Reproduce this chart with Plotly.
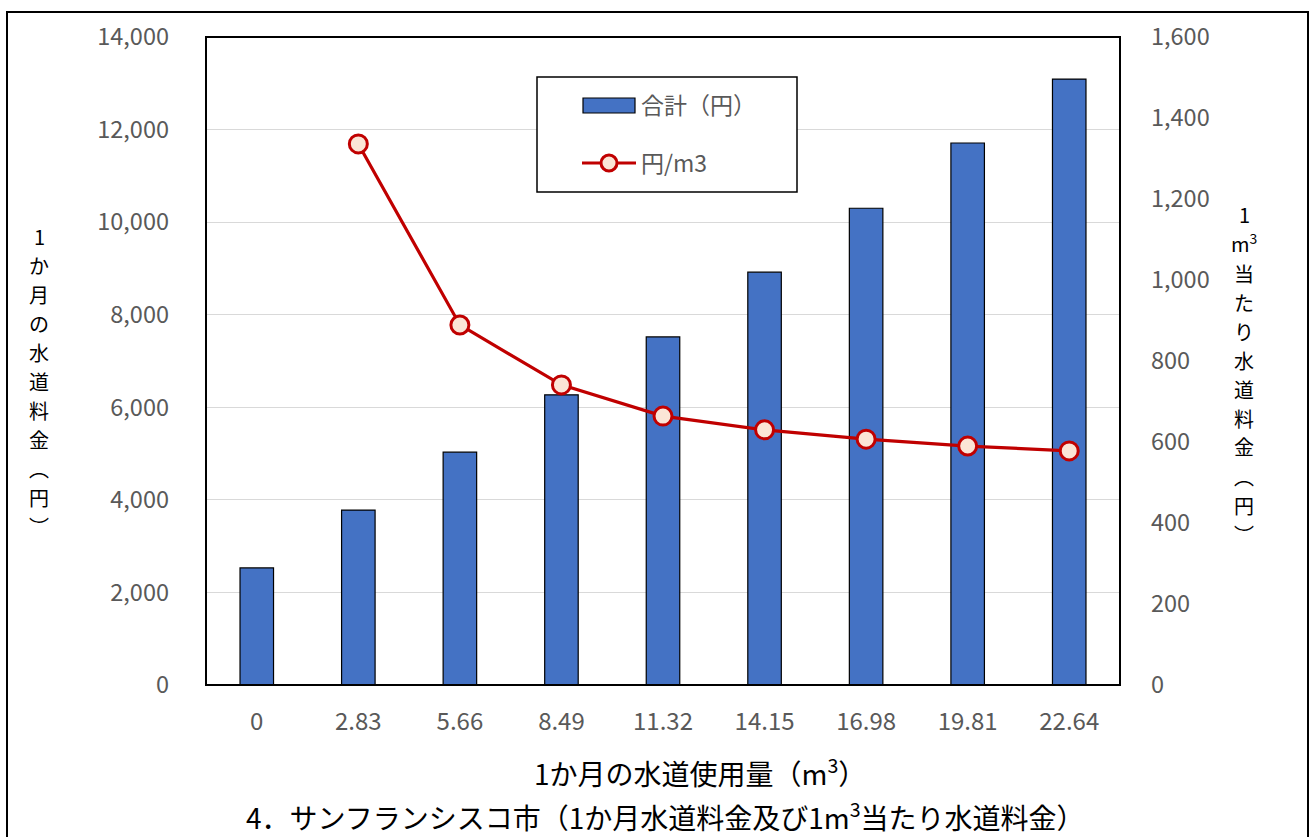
import plotly.graph_objects as go

# Monthly water usage (m3) categories
usage_labels = ["0", "2.83", "5.66", "8.49", "11.32", "14.15", "16.98", "19.81", "22.64"]
# Monthly water charge total (yen)
monthly_total = [2530, 3780, 5030, 6270, 7520, 8920, 10300, 11710, 13090]
# Charge per m3 (yen); undefined at zero usage
per_m3 = [None, 1336, 889, 741, 664, 630, 607, 590, 578]

left_ticks = [0, 2000, 4000, 6000, 8000, 10000, 12000, 14000]
right_ticks = [0, 200, 400, 600, 800, 1000, 1200, 1400, 1600]

# Vertical axis titles, one character per row
left_title_chars = ["1", "か", "月", "の", "水", "道", "料", "金", "︵", "円", "︶"]
right_title_chars = ["1", "m<sup>3</sup>", "当", "た", "り", "水", "道", "料", "金", "︵", "円", "︶"]

FONT = "Noto Sans CJK JP"
GRAY = "#595959"
BAR_BLUE = "#4472C4"
RED = "#C00000"
PEACH = "#FBE5D6"

fig = go.Figure()

fig.add_trace(go.Bar(
    x=usage_labels, y=monthly_total, name="合計（円）",
    marker=dict(color=BAR_BLUE, line=dict(color="#000000", width=1.2)),
    width=0.33, yaxis="y",
))

fig.add_trace(go.Scatter(
    x=usage_labels, y=per_m3, name="円/m3", mode="lines+markers",
    line=dict(color=RED, width=3.2),
    marker=dict(symbol="circle", size=18, color=PEACH, line=dict(color=RED, width=3)),
    yaxis="y2", connectgaps=False,
))

# Plot-area geometry in pixels (used to place the decorations)
W, H = 1310, 837
L, R, T, B = 206, 1120, 37, 685
PW, PH = R - L, B - T


def px(x):
    return (x - L) / PW


def py(y):
    return (B - y) / PH


shapes = [
    # outer frame
    dict(type="rect", xref="paper", yref="paper",
         x0=px(7), x1=px(1308), y0=py(850), y1=py(12),
         line=dict(color="#000000", width=2), fillcolor="rgba(0,0,0,0)", layer="below"),
    # plot-area frame
    dict(type="rect", xref="paper", yref="paper", x0=0, x1=1, y0=0, y1=1,
         line=dict(color="#000000", width=2), fillcolor="rgba(0,0,0,0)", layer="above"),
    # legend box
    dict(type="rect", xref="paper", yref="paper",
         x0=px(537), x1=px(797), y0=py(192), y1=py(77),
         line=dict(color="#000000", width=1.5), fillcolor="#FFFFFF", layer="above"),
    # legend swatch: bar
    dict(type="rect", xref="paper", yref="paper",
         x0=px(583), x1=px(635), y0=py(113), y1=py(98),
         line=dict(color="#000000", width=1.2), fillcolor=BAR_BLUE, layer="above"),
    # legend swatch: line
    dict(type="line", xref="paper", yref="paper",
         x0=px(582), x1=px(636), y0=py(163), y1=py(163),
         line=dict(color=RED, width=3.2), layer="above"),
    dict(type="circle", xref="paper", yref="paper",
         xsizemode="pixel", ysizemode="pixel",
         xanchor=px(609), yanchor=py(163), x0=-8, x1=8, y0=-8, y1=8,
         line=dict(color=RED, width=3), fillcolor=PEACH, layer="above"),
]

annotations = [
    dict(text="合計（円）", xref="paper", yref="paper", x=px(639), y=py(104),
         xanchor="left", yanchor="middle", showarrow=False,
         font=dict(family=FONT, size=23, color=GRAY)),
    dict(text="円/m3", xref="paper", yref="paper", x=px(639), y=py(162),
         xanchor="left", yanchor="middle", showarrow=False,
         font=dict(family=FONT, size=23, color=GRAY)),
    # x axis title
    dict(text="1か月の水道使用量（m<sup>3</sup>）", xref="paper", yref="paper",
         x=px(700), y=py(771), xanchor="center", yanchor="middle", showarrow=False,
         font=dict(family=FONT, size=28, color="#000000")),
    # chart caption
    dict(text="4．サンフランシスコ市（1か月水道料金及び1m<sup>3</sup>当たり水道料金）",
         xref="paper", yref="paper", x=px(665), y=py(815),
         xanchor="center", yanchor="middle", showarrow=False,
         font=dict(family=FONT, size=28, color="#000000")),
]

# Vertical titles: stack characters top to bottom
PITCH = 29
VSIZE = 20
for i, ch in enumerate(left_title_chars):
    annotations.append(dict(
        text=ch, xref="paper", yref="paper", x=px(39), y=py(236 + i * PITCH),
        xanchor="center", yanchor="middle", showarrow=False,
        font=dict(family=FONT, size=VSIZE, color="#000000")))
right_rows = [214, 243] + [273 + i * PITCH for i in range(len(right_title_chars) - 2)]
for ch, yy in zip(right_title_chars, right_rows):
    annotations.append(dict(
        text=ch, xref="paper", yref="paper", x=px(1244), y=py(yy),
        xanchor="center", yanchor="middle", showarrow=False,
        font=dict(family=FONT, size=VSIZE, color="#000000")))

fig.update_layout(
    width=W, height=H,
    margin=dict(l=L, r=W - R, t=T, b=H - B, pad=0),
    paper_bgcolor="#FFFFFF", plot_bgcolor="#FFFFFF",
    showlegend=False,
    bargap=0.67,
    font=dict(family=FONT, color=GRAY),
    xaxis=dict(
        type="category", categoryorder="array", categoryarray=usage_labels,
        range=[-0.5, len(usage_labels) - 0.5],
        showgrid=False, zeroline=False, showline=False,
        ticks="", ticklabelstandoff=20,
        tickfont=dict(family=FONT, size=24, color=GRAY),
    ),
    yaxis=dict(
        range=[0, 14000], tickvals=left_ticks, tickformat=",",
        showgrid=True, gridcolor="#D9D9D9", gridwidth=1.3,
        zeroline=False, showline=False, ticks="", ticklabelstandoff=36,
        tickfont=dict(family=FONT, size=23.5, color=GRAY),
    ),
    yaxis2=dict(
        range=[0, 1600], tickvals=right_ticks, tickformat=",",
        overlaying="y", side="right", showgrid=False, zeroline=False,
        showline=False, ticks="", ticklabelstandoff=30,
        tickfont=dict(family=FONT, size=23.5, color=GRAY),
    ),
    shapes=shapes,
    annotations=annotations,
)

fig.write_html("out.html")
